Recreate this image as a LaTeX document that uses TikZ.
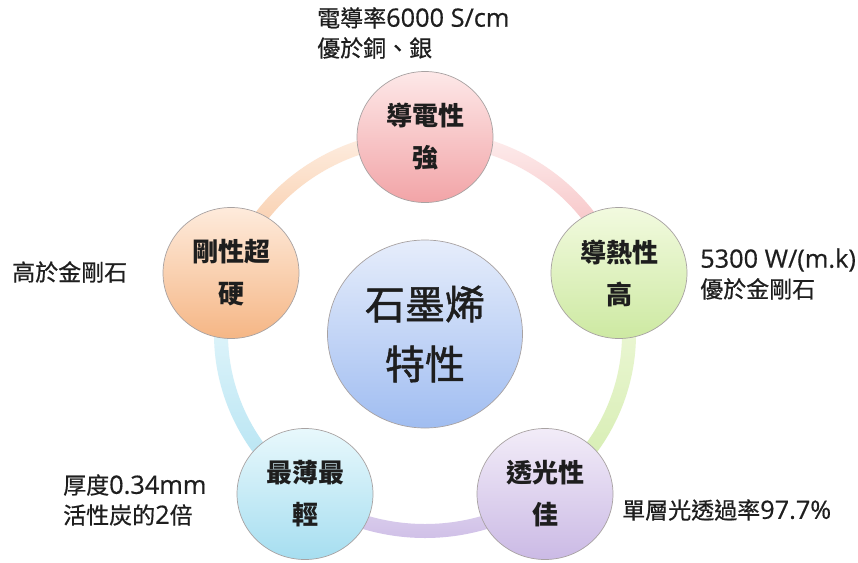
\documentclass[tikz,border=0pt]{standalone}
\usepackage{fontspec}
\setmainfont[Scale=1.1,FakeBold=0.5]{Open Sans}
\newfontfamily\cjk[FakeBold=0.6]{Noto Sans CJK TC}
\newfontfamily\cjkm[FakeBold=1.2]{Noto Sans CJK TC}
\newfontfamily\cjkb{Noto Sans CJK TC}
\usetikzlibrary{shapes.geometric,backgrounds}
\definecolor{pinkT}{HTML}{FDE8E8}\definecolor{pinkB}{HTML}{F2A4A7}
\definecolor{greenT}{HTML}{F2FADF}\definecolor{greenB}{HTML}{CDE9A2}
\definecolor{lavT}{HTML}{F2ECF8}\definecolor{lavB}{HTML}{CBBAE5}
\definecolor{cyanT}{HTML}{E8F8FC}\definecolor{cyanB}{HTML}{A6DEF0}
\definecolor{peachT}{HTML}{FEEBDC}\definecolor{peachB}{HTML}{F5B685}
\definecolor{blueT}{HTML}{E6EDFB}\definecolor{blueB}{HTML}{A0BDF1}
\definecolor{rim}{HTML}{A8A2A2}
\definecolor{ink}{HTML}{1E1E1E}
\tikzset{
  bub/.style={ellipse, minimum width=136pt, minimum height=131pt, inner sep=0pt,
    draw=rim, line width=0.7pt, align=center, text=ink,
    font=\cjkb\bfseries\fontsize{26}{42}\selectfont},
  hub/.style={bub, minimum width=195pt, minimum height=188pt,
    font=\cjkm\fontsize{40}{60}\selectfont},
  ann/.style={anchor=west, align=left, inner sep=0pt, text=ink,
    font=\fontsize{23}{30}\selectfont},
}
% band of the ring between two angles, shaded top to bottom
\newcommand\ringband[4]{%
  \shade[top color=#3, bottom color=#4]
    ({425+211*cos(#1)},{334+204*sin(#1)})
    arc[start angle=#1, end angle=#2, x radius=211, y radius=204]
    -- ({425+197*cos(#2)},{334+190*sin(#2)})
    arc[start angle=#2, end angle=#1, x radius=197, y radius=190] -- cycle;}
\begin{document}
\begin{tikzpicture}[x=1pt,y=-1pt]
\useasboundingbox (0,0) rectangle (858,562);
\fill[white] (0,0) rectangle (858,562);
% ring
\ringband{270}{342}{pinkT!70!white}{pinkB!85!white}
\ringband{342}{414}{greenT}{greenB!90!white}
\ringband{54}{126}{lavT!60!lavB}{lavB}
\ringband{126}{198}{cyanT!80!white}{cyanB!90!white}
\ringband{198}{270}{peachT!80!white}{peachB!85!white}
% nodes
\node[hub, top color=blueT, bottom color=blueB] (core) at (425,334) {石墨烯\\特性};
\node[bub, top color=pinkT, bottom color=pinkB] (cond) at (425,137) {導電性\\強};
\node[bub, top color=greenT, bottom color=greenB] (heat) at (619,273) {導熱性\\高};
\node[bub, top color=lavT, bottom color=lavB] (light) at (545,494) {透光性\\佳};
\node[bub, top color=cyanT, bottom color=cyanB] (thin) at (305,494) {最薄最\\輕};
\node[bub, top color=peachT, bottom color=peachB] (hard) at (231,273) {剛性超\\硬};
% annotations
\node[ann] (condT) at (317,33) {{\cjk 電導率}6000 S/cm\\{\cjk 優於銅、銀}};
\node[ann] (heatT) at (700,274) {5300 W/(m.k)\\{\cjk 優於金剛石}};
\node[ann] (hardT) at (12,272) {{\cjk 高於金剛石}};
\node[ann] (thinT) at (63,500) {{\cjk 厚度}0.34mm\\{\cjk 活性炭的}2{\cjk 倍}};
\node[ann] (lightT) at (622,510) {{\cjk 單層光透過率}97.7\%};
\end{tikzpicture}
\end{document}
